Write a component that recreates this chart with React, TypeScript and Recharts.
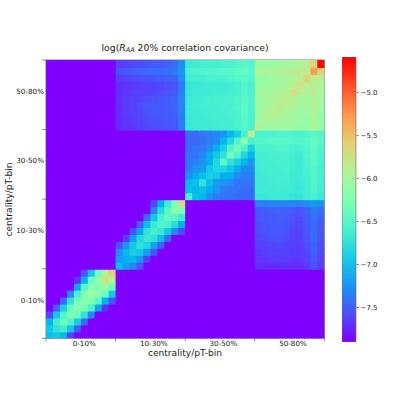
import React from "react";
import { ScatterChart, Scatter, XAxis, YAxis, ReferenceArea, BarChart, Bar } from "recharts";

const centralities = ["0-10%", "10-30%", "30-50%", "50-80%"];
const majorTicks = [0, 10, 20, 30, 40];
const labelTicks = [5.5, 15.5, 25.5, 35.5];
const colorbarTicks = [-7.5, -7.0, -6.5, -6.0, -5.5, -5.0];
const vMin = -7.9;
const vMax = -4.59;
const F = vMin;

// Every block lists its rows from the bottom of the picture to the top.
const block0x0 = [
  [-7.0, -6.95, -7.05, -7.6, F, F, F, F, F, F],
  [-6.95, -6.75, -6.65, -6.95, -7.5, F, F, F, F, F],
  [-7.05, -6.65, -6.35, -6.55, -6.9, -7.45, F, F, F, F],
  [-7.6, -6.95, -6.55, -6.25, -6.4, -6.75, -7.3, F, F, F],
  [F, -7.5, -6.9, -6.4, -6.2, -6.3, -6.6, -7.15, -7.7, F],
  [F, F, -7.45, -6.75, -6.3, -6.2, -6.25, -6.5, -7.1, -7.55],
  [F, F, F, -7.3, -6.6, -6.25, -6.05, -6.2, -6.4, -6.95],
  [F, F, F, F, -7.15, -6.5, -6.2, -6.2, -6.1, -6.35],
  [F, F, F, F, -7.7, -7.1, -6.4, -6.1, -5.75, -5.9],
  [F, F, F, F, F, -7.55, -6.95, -6.35, -5.9, -5.6],
];
const block1x1 = [
  [-7.0, -7.2, -7.3, -7.55, F, F, F, F, F, F],
  [-7.2, -7.1, -7.05, -7.25, -7.65, F, F, F, F, F],
  [-7.3, -7.05, -6.9, -6.95, -7.2, -7.55, F, F, F, F],
  [-7.55, -7.25, -6.95, -6.75, -6.85, -7.15, -7.5, F, F, F],
  [F, -7.65, -7.2, -6.85, -6.7, -6.75, -7.0, -7.45, F, F],
  [F, F, -7.55, -7.15, -6.75, -6.6, -6.7, -6.95, -7.3, -7.6],
  [F, F, F, -7.5, -7.0, -6.7, -6.55, -6.6, -6.8, -7.1],
  [F, F, F, F, -7.45, -6.95, -6.6, -6.45, -6.5, -6.65],
  [F, F, F, F, F, -7.3, -6.8, -6.5, -6.15, -6.25],
  [F, F, F, F, F, -7.6, -7.1, -6.65, -6.25, -5.7],
];
const block2x2 = [
  [-6.6, -7.0, -7.05, -7.25, -7.35, -7.4, -7.4, -7.45, -7.45, -7.45],
  [-7.0, -7.05, -7.0, -7.1, -7.25, -7.35, -7.4, -7.4, -7.45, -7.45],
  [-7.05, -7.0, -6.75, -7.0, -7.2, -7.25, -7.3, -7.4, -7.4, -7.4],
  [-7.25, -7.1, -7.0, -6.9, -6.95, -7.1, -7.1, -7.3, -7.35, -7.35],
  [-7.35, -7.25, -7.2, -6.95, -6.85, -6.85, -6.95, -7.1, -7.3, -7.3],
  [-7.4, -7.35, -7.25, -7.1, -6.85, -6.5, -6.75, -6.9, -7.05, -7.25],
  [-7.4, -7.4, -7.3, -7.1, -6.95, -6.75, -6.3, -6.55, -6.85, -7.05],
  [-7.45, -7.4, -7.4, -7.3, -7.1, -6.9, -6.55, -6.3, -6.55, -6.9],
  [-7.45, -7.45, -7.4, -7.35, -7.3, -7.05, -6.85, -6.55, -6.15, -6.6],
  [-7.45, -7.45, -7.4, -7.35, -7.3, -7.25, -7.05, -6.9, -6.6, -5.85],
];
const block3x3 = [
  [-5.85, -6.05, -6.05, -6.05, -6.05, -6.05, -6.1, -6.1, -5.95, -6.1],
  [-6.05, -5.95, -5.95, -6.0, -6.0, -6.0, -6.05, -6.1, -5.95, -6.1],
  [-6.05, -5.95, -5.88, -5.93, -5.97, -6.0, -6.05, -6.05, -5.95, -6.1],
  [-6.05, -6.0, -5.93, -5.85, -5.92, -5.95, -6.0, -6.0, -5.92, -6.05],
  [-6.05, -6.0, -5.97, -5.92, -5.85, -5.92, -6.0, -6.0, -5.9, -6.0],
  [-6.05, -6.0, -6.0, -5.95, -5.92, -5.72, -5.9, -5.95, -5.85, -6.0],
  [-6.1, -6.05, -6.05, -6.0, -6.0, -5.9, -5.72, -5.9, -5.87, -5.95],
  [-6.1, -6.1, -6.05, -6.0, -6.0, -5.95, -5.9, -5.6, -5.87, -5.87],
  [-5.95, -5.95, -5.9, -5.9, -5.88, -5.85, -5.85, -5.85, -5.3, -5.6],
  [-6.1, -6.1, -6.1, -6.05, -6.0, -6.0, -5.95, -5.87, -5.6, -4.6],
];
// Columns 20-29 against rows 30-39; also drawn mirrored.
const block2x3 = [
  [-6.7, -6.67, -6.66, -6.66, -6.65, -6.63, -6.62, -6.58, -6.53, -6.58],
  [-6.7, -6.67, -6.66, -6.65, -6.63, -6.62, -6.62, -6.58, -6.53, -6.58],
  [-6.68, -6.66, -6.64, -6.63, -6.62, -6.62, -6.6, -6.58, -6.5, -6.58],
  [-6.68, -6.64, -6.63, -6.62, -6.62, -6.6, -6.6, -6.55, -6.5, -6.55],
  [-6.68, -6.64, -6.63, -6.62, -6.6, -6.6, -6.58, -6.55, -6.5, -6.55],
  [-6.72, -6.68, -6.67, -6.66, -6.64, -6.64, -6.62, -6.6, -6.53, -6.58],
  [-6.72, -6.7, -6.68, -6.67, -6.66, -6.66, -6.64, -6.6, -6.53, -6.58],
  [-6.64, -6.63, -6.62, -6.6, -6.6, -6.58, -6.55, -6.54, -6.5, -6.54],
  [-6.6, -6.55, -6.55, -6.54, -6.53, -6.5, -6.5, -6.46, -6.42, -6.5],
  [-6.68, -6.64, -6.63, -6.62, -6.62, -6.6, -6.58, -6.55, -6.5, -6.55],
];
// Columns 10-19 against rows 30-39; also drawn mirrored.
const block1x3 = [
  [-7.72, -7.68, -7.67, -7.63, -7.6, -7.58, -7.58, -7.54, -7.53, -7.36],
  [-7.72, -7.68, -7.64, -7.62, -7.58, -7.55, -7.55, -7.53, -7.52, -7.36],
  [-7.72, -7.65, -7.63, -7.6, -7.55, -7.53, -7.53, -7.52, -7.5, -7.32],
  [-7.72, -7.65, -7.63, -7.58, -7.54, -7.53, -7.52, -7.5, -7.48, -7.32],
  [-7.7, -7.65, -7.63, -7.62, -7.58, -7.56, -7.53, -7.52, -7.48, -7.32],
  [-7.72, -7.68, -7.64, -7.63, -7.62, -7.62, -7.58, -7.56, -7.52, -7.32],
  [-7.72, -7.68, -7.67, -7.66, -7.63, -7.62, -7.61, -7.57, -7.56, -7.36],
  [-7.65, -7.63, -7.6, -7.58, -7.55, -7.54, -7.52, -7.5, -7.48, -7.28],
  [-7.55, -7.53, -7.5, -7.48, -7.45, -7.44, -7.43, -7.42, -7.38, -7.22],
  [-7.65, -7.63, -7.6, -7.58, -7.55, -7.53, -7.52, -7.48, -7.44, -7.27],
];

const grid: number[][] = Array.from({ length: 40 }, () => new Array(40).fill(vMin));
const place = (rows: number[][], col: number, row: number, mirror: boolean) => {
  rows.forEach((line, r) =>
    line.forEach((v, c) => {
      grid[row + r][col + c] = v;
      if (mirror) grid[col + c][row + r] = v;
    })
  );
};
place(block0x0, 0, 0, false);
place(block1x1, 10, 10, false);
place(block2x2, 20, 20, false);
place(block3x3, 30, 30, false);
place(block2x3, 20, 30, true);
place(block1x3, 10, 30, true);

const cells = grid.flatMap((line, r) => line.map((v, c) => ({ x: c + 0.5, y: r + 0.5, v })));

const rainbow = (t: number) => {
  const r = Math.abs(2 * t - 0.5);
  const g = Math.sin(Math.PI * t);
  const b = Math.cos((Math.PI * t) / 2);
  const h = (n: number) => Math.round(Math.min(1, n) * 255);
  return `rgb(${h(r)},${h(g)},${h(b)})`;
};
const colorOf = (v: number) => rainbow((v - vMin) / (vMax - vMin));

const CHART = 399;
const PLOT_L = 46;
const PLOT_R = 324.3;
const PLOT_T = 60;
const PLOT_B = 338.3;
const CELL_W = (PLOT_R - PLOT_L) / 40;
const CELL_H = (PLOT_B - PLOT_T) / 40;
const FONT = "'DejaVu Sans', sans-serif";
const INK = "#1a1a1a";
const SPINE = "#666";

const CellShape = (props: any) => {
  const left = props.cx - CELL_W / 2;
  const top = props.cy - CELL_H / 2;
  const right = Math.min(props.cx + CELL_W / 2 + 1, PLOT_R);
  const bottom = Math.min(props.cy + CELL_H / 2 + 1, PLOT_B);
  return <rect x={left} y={top} width={right - left} height={bottom - top} fill={colorOf(props.payload.v)} />;
};

const XTick = ({ x, payload }: any) => {
  const idx = labelTicks.indexOf(payload.value);
  return idx >= 0 ? (
    <text x={x} y={PLOT_B + 7.5} textAnchor="middle" fontSize={7.2} fontFamily={FONT} fill={INK}>
      {centralities[idx]}
    </text>
  ) : (
    <line x1={x} x2={x} y1={PLOT_B} y2={PLOT_B + 3} stroke={SPINE} strokeWidth={0.8} />
  );
};
const YTick = ({ y, payload }: any) => {
  const idx = labelTicks.indexOf(payload.value);
  return idx >= 0 ? (
    <text x={PLOT_L - 2} y={y + 2.5} textAnchor="end" fontSize={7.2} fontFamily={FONT} fill={INK}>
      {centralities[idx]}
    </text>
  ) : (
    <line x1={PLOT_L - 4} x2={PLOT_L} y1={y} y2={y} stroke={SPINE} strokeWidth={0.8} />
  );
};

const BAR_LEFT = 341.7;
const BAR_TOP = 56.7;
const BAR_BOTTOM = 341.7;
const BAR_WIDTH = 14.4;
const stopTs = [0, 0.1, 0.2, 0.3, 0.4, 0.5, 0.6, 0.7, 0.8, 0.9, 1];
const barData = [{ name: "scale", range: [vMin, vMax] }];
const fmtBar = (v: number) => v.toFixed(1).replace("-", "\u2212");

const BarTick = ({ y, payload }: any) => (
  <g>
    <line x1={BAR_WIDTH} x2={BAR_WIDTH + 2.5} y1={y} y2={y} stroke={SPINE} strokeWidth={0.8} />
    <text x={BAR_WIDTH + 4.2} y={y + 2.5} fontSize={7} fontFamily={FONT} fill={INK}>
      {fmtBar(payload.value)}
    </text>
  </g>
);

const allTicks = [...majorTicks, ...labelTicks].sort((a, b) => a - b);

export default function App() {
  return (
    <div style={{ position: "fixed", left: 0, top: 0, width: CHART, height: CHART, background: "#fff" }}>
      <ScatterChart
        width={CHART}
        height={CHART}
        margin={{ top: PLOT_T, left: 6, right: CHART - PLOT_R, bottom: 10 }}
      >
        <XAxis
          type="number"
          dataKey="x"
          domain={[0, 40]}
          ticks={allTicks}
          interval={0}
          height={CHART - PLOT_B - 10}
          axisLine={false}
          tickLine={false}
          tick={<XTick />}
        />
        <YAxis
          type="number"
          dataKey="y"
          domain={[0, 40]}
          ticks={allTicks}
          interval={0}
          width={PLOT_L - 6}
          axisLine={false}
          tickLine={false}
          tick={<YTick />}
        />
        <Scatter data={cells} isAnimationActive={false} shape={<CellShape />} />
        <ReferenceArea x1={0} x2={40} y1={0} y2={40} fill="none" stroke={SPINE} strokeWidth={0.8} />
        <text x={185} y={50.5} textAnchor="middle" fontSize={9.3} fontFamily={FONT} fill={INK}>
          log(<tspan fontStyle="italic">R</tspan>
          <tspan fontStyle="italic" fontSize={6.5} dy={1.5}>AA</tspan>
          <tspan dy={-1.5}> 20% correlation covariance)</tspan>
        </text>
        <text x={185} y={356} textAnchor="middle" fontSize={9.1} fontFamily={FONT} fill={INK}>
          centrality/pT-bin
        </text>
        <text
          x={12}
          y={199.5}
          textAnchor="middle"
          fontSize={9.1}
          fontFamily={FONT}
          fill={INK}
          transform="rotate(-90 12 199.5)"
        >
          centrality/pT-bin
        </text>
      </ScatterChart>
      <div style={{ position: "absolute", left: BAR_LEFT, top: BAR_TOP }}>
        <BarChart
          width={CHART - BAR_LEFT}
          height={BAR_BOTTOM - BAR_TOP}
          data={barData}
          barCategoryGap={0}
          margin={{ top: 0, left: 0, right: 0, bottom: 0 }}
        >
          <defs>
            <linearGradient id="rainbowBar" x1="0" y1="1" x2="0" y2="0">
              {stopTs.map((t) => (
                <stop key={t} offset={t} stopColor={rainbow(t)} />
              ))}
            </linearGradient>
          </defs>
          <XAxis dataKey="name" hide />
          <YAxis
            orientation="right"
            type="number"
            domain={[vMin, vMax]}
            ticks={colorbarTicks}
            interval={0}
            width={CHART - BAR_LEFT - BAR_WIDTH}
            axisLine={false}
            tickLine={false}
            tick={<BarTick />}
          />
          <Bar dataKey="range" fill="url(#rainbowBar)" stroke={SPINE} strokeWidth={0.6} isAnimationActive={false} />
        </BarChart>
      </div>
    </div>
  );
}
